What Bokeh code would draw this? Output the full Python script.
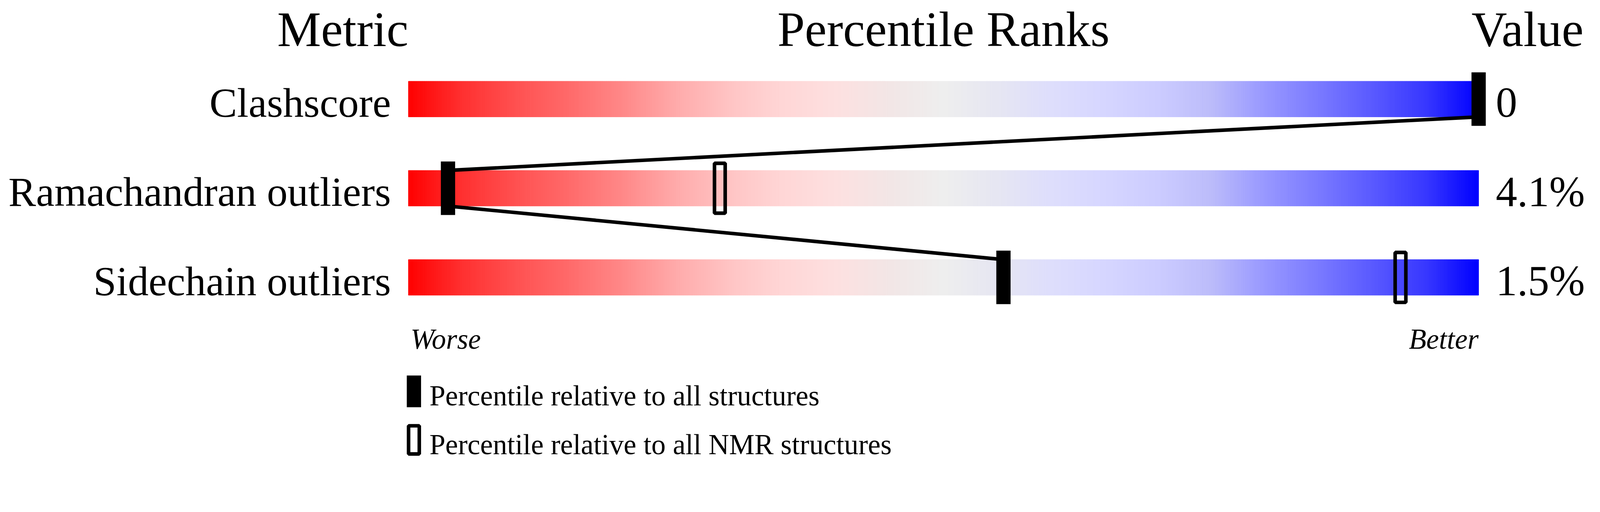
import math
from bokeh.plotting import figure
from bokeh.models import Range1d
from bokeh.core.properties import value
from bokeh.embed import file_html
from bokeh.resources import INLINE

# ---------------- data ----------------
metrics = ["Clashscore", "Ramachandran outliers", "Sidechain outliers"]
value_labels = ["0", "4.1%", "1.5%"]
pct_all = [100.0, 3.7, 55.6]          # percentile relative to all structures
pct_nmr = [float("nan"), 29.1, 92.7]  # percentile relative to all NMR structures
headers = ["Metric", "Percentile Ranks", "Value"]
scale_ends = ["Worse", "Better"]
legend_labels = ["Percentile relative to all structures",
                 "Percentile relative to all NMR structures"]

# gradient stops (styling)
grad_pos = [0.00, 0.05, 0.10, 0.15, 0.20, 0.25, 0.30, 0.35, 0.40, 0.45, 0.50,
            0.55, 0.60, 0.65, 0.70, 0.75, 0.80, 0.85, 0.90, 0.95, 1.00]
grad_rgb = [(255, 0, 0), (255, 48, 48), (255, 80, 80), (255, 106, 106), (255, 136, 136),
            (255, 170, 170), (255, 196, 196), (255, 214, 214), (253, 224, 224), (242, 230, 230),
            (238, 238, 238), (230, 230, 242), (222, 222, 252), (214, 214, 255), (204, 204, 255),
            (188, 188, 250), (152, 152, 255), (122, 122, 255), (90, 90, 255), (56, 56, 255),
            (0, 0, 255)]

def grad_color(t):
    for k in range(len(grad_pos) - 1):
        if grad_pos[k] <= t <= grad_pos[k + 1]:
            f = (t - grad_pos[k]) / (grad_pos[k + 1] - grad_pos[k])
            c = [round(a + (b - a) * f) for a, b in zip(grad_rgb[k], grad_rgb[k + 1])]
            return "#%02x%02x%02x" % tuple(c)
    return "#%02x%02x%02x" % grad_rgb[-1]

# ---------------- layout ----------------
K = 4096 / 4485            # css px per screenshot px
W, H = 4080, 1181          # figure css size
BAR_LEFT_DEV = 1153.0      # screenshot px
DEV_PER_PCT = 30.0
ROW0_DEV = 286.0
ROW_DEV = 250.0
MARGIN = 8.0
MID = 0.3375               # middle of em box above the baseline (Liberation Serif)

bl_css = BAR_LEFT_DEV * K - MARGIN
r0_css = ROW0_DEV * K - MARGIN
x_range = Range1d(-bl_css / (DEV_PER_PCT * K), (W - bl_css) / (DEV_PER_PCT * K))
y_range = Range1d((H - r0_css) / (ROW_DEV * K), -r0_css / (ROW_DEV * K))

def ry(dev_y):
    return (dev_y - ROW0_DEV) / ROW_DEV

def ty(base_dev, size_dev):
    # y of text centre for a wanted baseline
    return ry(base_dev - MID * size_dev)

def fs(px):
    return "%.1fpx" % (px * K)

p = figure(width=W, height=H, x_range=x_range, y_range=y_range, title=None,
           output_backend="svg", toolbar_location=None, min_border=0,
           x_axis_location=None, y_axis_location=None)
p.grid.visible = False
p.outline_line_color = None
p.background_fill_color = "white"
p.border_fill_color = "white"

SERIF = value("Liberation Serif")
BAR_H = 100 / ROW_DEV
MARK_W = 40 / DEV_PER_PCT
MARK_H = 150 / ROW_DEV

# gradient bars
N = 500
left, right, top, bottom, cols = [], [], [], [], []
for r in range(len(metrics)):
    for i in range(N):
        left.append(100.0 * i / N)
        right.append(100.0 * (i + 1) / N)
        top.append(r - BAR_H / 2)
        bottom.append(r + BAR_H / 2)
        cols.append(grad_color((i + 0.5) / N))
p.quad(left=left, right=right, top=top, bottom=bottom,
       fill_color=cols, line_color=cols, line_width=1)

# connecting lines between "all structures" markers
p.segment(x0=pct_all[:-1], y0=[r + BAR_H / 2 for r in range(len(metrics) - 1)],
          x1=pct_all[1:], y1=[r + 1 - BAR_H / 2 for r in range(len(metrics) - 1)],
          line_color="black", line_width=10 * K, line_cap="butt")

# filled markers
p.rect(x=pct_all, y=list(range(len(metrics))), width=MARK_W, height=MARK_H,
       fill_color="black", line_color=None)

# hollow markers (NMR)
nx = [v for v in pct_nmr if not math.isnan(v)]
nyy = [r for r, v in enumerate(pct_nmr) if not math.isnan(v)]
p.rect(x=nx, y=nyy, width=30 / DEV_PER_PCT, height=140 / ROW_DEV,
       fill_alpha=0, line_color="black", line_width=10 * K)

# metric labels (baseline at bar bottom)
p.text(x=[0] * len(metrics),
       y=[ty(ROW0_DEV + 50 + ROW_DEV * r, 116) for r in range(len(metrics))], text=metrics,
       text_font=SERIF, text_font_size=fs(116), text_align="right",
       text_baseline="middle", x_offset=-49 * K, text_color="black")

# value labels
p.text(x=[100] * len(value_labels),
       y=[ty(ROW0_DEV + 50 + ROW_DEV * r, 120) for r in range(len(value_labels))],
       text=value_labels, text_font=SERIF, text_font_size=fs(120), text_align="left",
       text_baseline="middle", x_offset=48 * K, text_color="black")

# headers
hy = ty(138, 138)
p.text(x=[0], y=[hy], text=[headers[0]], text_font=SERIF, text_font_size=fs(138),
       text_align="right", text_baseline="middle", text_color="black")
p.text(x=[50], y=[hy], text=[headers[1]], text_font=SERIF, text_font_size=fs(138),
       text_align="center", text_baseline="middle", text_color="black")
p.text(x=[100], y=[hy], text=[headers[2]], text_font=SERIF, text_font_size=fs(138),
       text_align="left", text_baseline="middle", x_offset=-20 * K, text_color="black")

# Worse / Better
wy = ty(986, 80)
p.text(x=[0], y=[wy], text=[scale_ends[0]], text_font=SERIF, text_font_size=fs(80),
       text_font_style="italic", text_align="left", text_baseline="middle",
       x_offset=6 * K, text_color="black")
p.text(x=[100], y=[wy], text=[scale_ends[1]], text_font=SERIF, text_font_size=fs(80),
       text_font_style="italic", text_align="right", text_baseline="middle",
       text_color="black")

# legend
lx = (1168.5 - BAR_LEFT_DEV) / DEV_PER_PCT
p.rect(x=[lx], y=[ry(1105.5)], width=MARK_W, height=89 / ROW_DEV,
       fill_color="black", line_color=None)
p.rect(x=[lx], y=[ry(1241.5)], width=30 / DEV_PER_PCT, height=79 / ROW_DEV,
       fill_alpha=0, line_color="black", line_width=10 * K)
p.text(x=[0, 0], y=[ty(1145, 80), ty(1282, 80)], text=legend_labels, text_font=SERIF,
       text_font_size=fs(80), text_align="left", text_baseline="middle",
       x_offset=59 * K, text_color="black")

open("out.html", "w").write(file_html(p, INLINE))
